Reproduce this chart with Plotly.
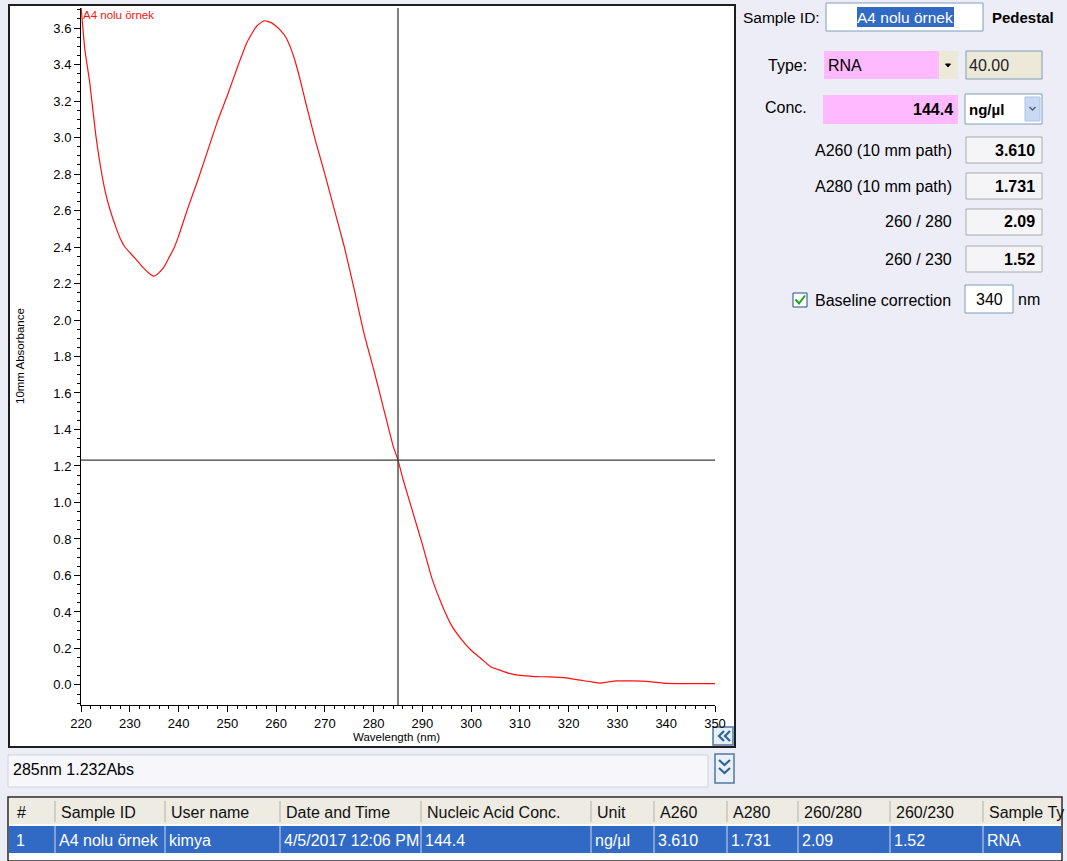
import plotly.graph_objects as go

# ---------------- data ----------------
wavelength_nm = [220, 220.8, 221.8, 223, 224, 225, 226, 227, 228, 229, 230, 231, 232, 233, 234,
                 235, 236, 237, 238, 239, 240, 241, 242, 244, 246, 248, 250, 252, 254, 256,
                 257.5, 259, 260, 261, 262, 263, 264, 265, 266, 268, 270, 272, 274, 276, 278,
                 280, 282, 284, 285, 286, 288, 290, 292, 294, 296, 298, 300, 302, 304, 306,
                 308, 310, 313, 316, 319, 322, 325, 326.5, 328, 330, 333, 336, 338, 340, 344, 350]
absorbance = [3.72, 3.48, 3.30, 3.02, 2.84, 2.70, 2.60, 2.52, 2.45, 2.40, 2.37, 2.34, 2.31, 2.28, 2.255,
              2.24, 2.26, 2.29, 2.34, 2.39, 2.46, 2.54, 2.62, 2.77, 2.93, 3.09, 3.23, 3.38, 3.52, 3.61,
              3.64, 3.63, 3.61, 3.585, 3.55, 3.49, 3.41, 3.31, 3.20, 2.99, 2.80, 2.60, 2.40, 2.17, 1.93,
              1.73, 1.52, 1.31, 1.232, 1.13, 0.95, 0.77, 0.58, 0.44, 0.325, 0.25, 0.19, 0.145, 0.10, 0.08,
              0.062, 0.052, 0.046, 0.044, 0.040, 0.028, 0.015, 0.010, 0.016, 0.022, 0.022, 0.020, 0.014,
              0.008, 0.007, 0.007]
sample_name = "A4 nolu örnek"
cursor_nm = 285
cursor_abs = 1.232
x_range = [220, 350]
y_range = [-0.11, 3.71]

panel_labels = ["A260 (10 mm path)", "A280 (10 mm path)", "260 / 280", "260 / 230"]
panel_values = ["3.610", "1.731", "2.09", "1.52"]
sample_type = "RNA"
type_factor = "40.00"
conc_value = "144.4"
conc_unit = "ng/µl"
baseline_nm = "340"

table_headers = ["#", "Sample ID", "User name", "Date and Time", "Nucleic Acid Conc.", "Unit",
                 "A260", "A280", "260/280", "260/230", "Sample Ty"]
table_row = ["1", "A4 nolu örnek", "kimya", "4/5/2017 12:06 PM", "144.4", "ng/µl",
             "3.610", "1.731", "2.09", "1.52", "RNA"]
table_col_edges = [9, 55, 165, 280, 421, 591, 654, 727, 798, 890, 983, 1062]

# ---------------- layout helpers ----------------
W, H = 1067, 861
L, R, T, B = 81, 715, 8, 705
FONT = "Liberation Sans, Arial, sans-serif"
TICKFONT = "Liberation Sans Narrow, Arial Narrow, Liberation Sans, sans-serif"
UI = 16


def px(x):
    return (x - L) / (R - L)


def py(y):
    return (B - y) / (B - T)


shapes = []
annotations = []


def rect(x0, y0, x1, y1, fill, line=None, lw=1, layer="below"):
    shapes.append(dict(type="rect", xref="paper", yref="paper",
                       x0=px(x0), x1=px(x1), y0=py(y1), y1=py(y0),
                       fillcolor=fill, layer=layer,
                       line=dict(color=line if line else "rgba(0,0,0,0)", width=lw if line else 0)))


def path(points, color, lw=1.5, fill=None, closed=False, layer="above"):
    d = "M " + " L ".join(f"{px(a):.5f},{py(b):.5f}" for a, b in points)
    if closed:
        d += " Z"
    shapes.append(dict(type="path", xref="paper", yref="paper", path=d, layer=layer,
                       fillcolor=fill if fill else "rgba(0,0,0,0)",
                       line=dict(color=color, width=lw)))


def vline(x, y0, y1, color, lw=1):
    shapes.append(dict(type="line", xref="paper", yref="paper", x0=px(x), x1=px(x),
                       y0=py(y0), y1=py(y1), line=dict(color=color, width=lw), layer="above"))


def text(x, y, s, anchor="left", size=UI, color="#000000", font=FONT, angle=0):
    annotations.append(dict(xref="paper", yref="paper", x=px(x), y=py(y), text=s,
                            showarrow=False, xanchor=anchor, yanchor="middle",
                            textangle=angle, borderpad=0,
                            font=dict(family=font, size=size, color=color)))


# ---------------- chart panel ----------------
rect(9, 5, 735, 747, "#FFFFFF", "#1E1E1E", 2)

fig = go.Figure()
fig.add_trace(go.Scatter(x=wavelength_nm, y=absorbance, mode="lines",
                         line=dict(color="#FF1010", width=1.2, shape="spline", smoothing=0.5),
                         hoverinfo="x+y", showlegend=False))

# crosshair cursor
fig.add_shape(type="line", xref="x", yref="y", x0=cursor_nm, x1=cursor_nm, y0=y_range[0], y1=y_range[1],
              line=dict(color="#3A3A3A", width=1.3), layer="above")
fig.add_shape(type="line", xref="x", yref="y", x0=x_range[0], x1=x_range[1], y0=cursor_abs, y1=cursor_abs,
              line=dict(color="#3A3A3A", width=1.3), layer="above")

text(82, 15, sample_name, "left", 11.5, "#FF1010")
text(396, 737, "Wavelength (nm)", "center", 11.5, "#000000")
text(20, 356, "10mm Absorbance", "center", 11.5, "#000000", angle=-90)

# "<<" button
rect(713, 727, 733, 745, "#E6EEF8", "#4F78A3", 1.5)
path([(724, 731), (719, 736), (724, 741)], "#2F6699", 2.2)
path([(730, 731), (725, 736), (730, 741)], "#2F6699", 2.2)

# ---------------- status line ----------------
rect(8, 755, 708, 787, "#F7F7FB", "#D0D0D8", 1)
text(12, 769, f"{cursor_nm}nm {cursor_abs:.3f}Abs", "left", 16)
rect(715, 754, 734, 783, "#EAF0F8", "#4F78A3", 1.5)
path([(719, 760), (724.5, 765), (730, 760)], "#2F6699", 2.2)
path([(719, 768), (724.5, 773), (730, 768)], "#2F6699", 2.2)

# ---------------- right panel ----------------
text(742, 17, "Sample ID:", "left", 15.5)
rect(826, 3, 983, 31, "#FFFFFF", "#7F9DB9", 1)
rect(857, 7, 954, 27, "#316AC5")
text(905, 17, sample_name, "center", 15.5, "#FFFFFF")
text(991, 17, "<b>Pedestal</b>", "left", 15)

text(808, 65, "Type:", "right")
rect(824, 51, 939, 79, "#FFB9FF")
text(827, 65, sample_type, "left")
rect(939, 51, 958, 79, "#ECE9D8")
path([(945.5, 64), (950.5, 64), (948, 67)], "#000000", 1, fill="#000000", closed=True)
rect(966, 51, 1042, 79, "#ECE9D8", "#7F9DB9", 1)
text(968, 65, type_factor, "left", UI, "#222222")

text(808, 108, "Conc.", "right")
rect(823, 95, 958, 124, "#FFB9FF")
text(954, 109, f"<b>{conc_value}</b>", "right")
rect(965, 94, 1042, 124, "#FFFFFF", "#7F9DB9", 1)
text(968, 109, f"<b>{conc_unit}</b>", "left", 15)
rect(1025, 97, 1040, 121, "#C9D8F3", "#AFC3E8", 1)
path([(1029.5, 107), (1032.5, 110), (1035.5, 107)], "#4D6185", 1.5)

row_y = [150, 186, 222, 259]
for lab, val, yy in zip(panel_labels, panel_values, row_y):
    text(953, yy, lab, "right")
    rect(966, yy - 13, 1042, yy + 13, "#F5F5F8", "#A8A8B0", 1)
    text(1036, yy, f"<b>{val}</b>", "right")

rect(793, 293, 807, 307, "#FFFFFF", "#1C5180", 1)
path([(795.5, 299.5), (799, 303.5), (805, 295.5)], "#21A121", 2)
text(814, 300, "Baseline correction", "left")
rect(965, 285, 1013, 313, "#FFFFFF", "#7F9DB9", 1)
text(989, 299, baseline_nm, "center")
text(1017, 299, "nm", "left")

# ---------------- results table ----------------
rect(8, 797, 1062, 861, "#FFFFFF", "#2A2A2A", 1.5)
rect(9, 798, 1061, 824, "#EDEBE2")
rect(9, 826, 1061, 853, "#316AC5")
for i, (hd, vl) in enumerate(zip(table_headers, table_row)):
    x0 = table_col_edges[i]
    text(x0 + (7 if i == 0 else 5), 812, hd, "left", UI, "#111111")
    text(x0 + (6 if i == 0 else 3), 840, vl, "left", UI, "#FFFFFF")
    if i > 0:
        vline(x0, 801, 822, "#C9C5B6", 1.5)
        vline(x0, 826, 853, "#9FB3D9", 1.5)

# ---------------- layout ----------------
fig.update_layout(
    width=W, height=H,
    margin=dict(l=L, r=W - R, t=T, b=H - B, pad=0),
    paper_bgcolor="#EDEDF8",
    plot_bgcolor="rgba(0,0,0,0)",
    showlegend=False,
    shapes=list(fig.layout.shapes) + shapes,
    annotations=annotations,
    xaxis=dict(range=x_range, showgrid=False, zeroline=False, showline=True, linecolor="#000000",
               linewidth=1, ticks="outside", ticklen=6, tickcolor="#000000", tick0=220, dtick=10,
               tickfont=dict(family=TICKFONT, size=13, color="#000000"),
               minor=dict(dtick=2, ticks="outside", ticklen=3, tickcolor="#000000", showgrid=False)),
    yaxis=dict(range=y_range, showgrid=False, zeroline=False, showline=True, linecolor="#000000",
               linewidth=1, ticks="outside", ticklen=6, tickcolor="#000000", tick0=0, dtick=0.2,
               tickformat=".1f", tickfont=dict(family=TICKFONT, size=13, color="#000000"),
               minor=dict(dtick=0.05, ticks="outside", ticklen=3, tickcolor="#000000", showgrid=False)),
)

fig.write_html("out.html", config={"displayModeBar": False},
               post_script="document.body.style.margin='0';document.body.style.overflow='hidden';")
